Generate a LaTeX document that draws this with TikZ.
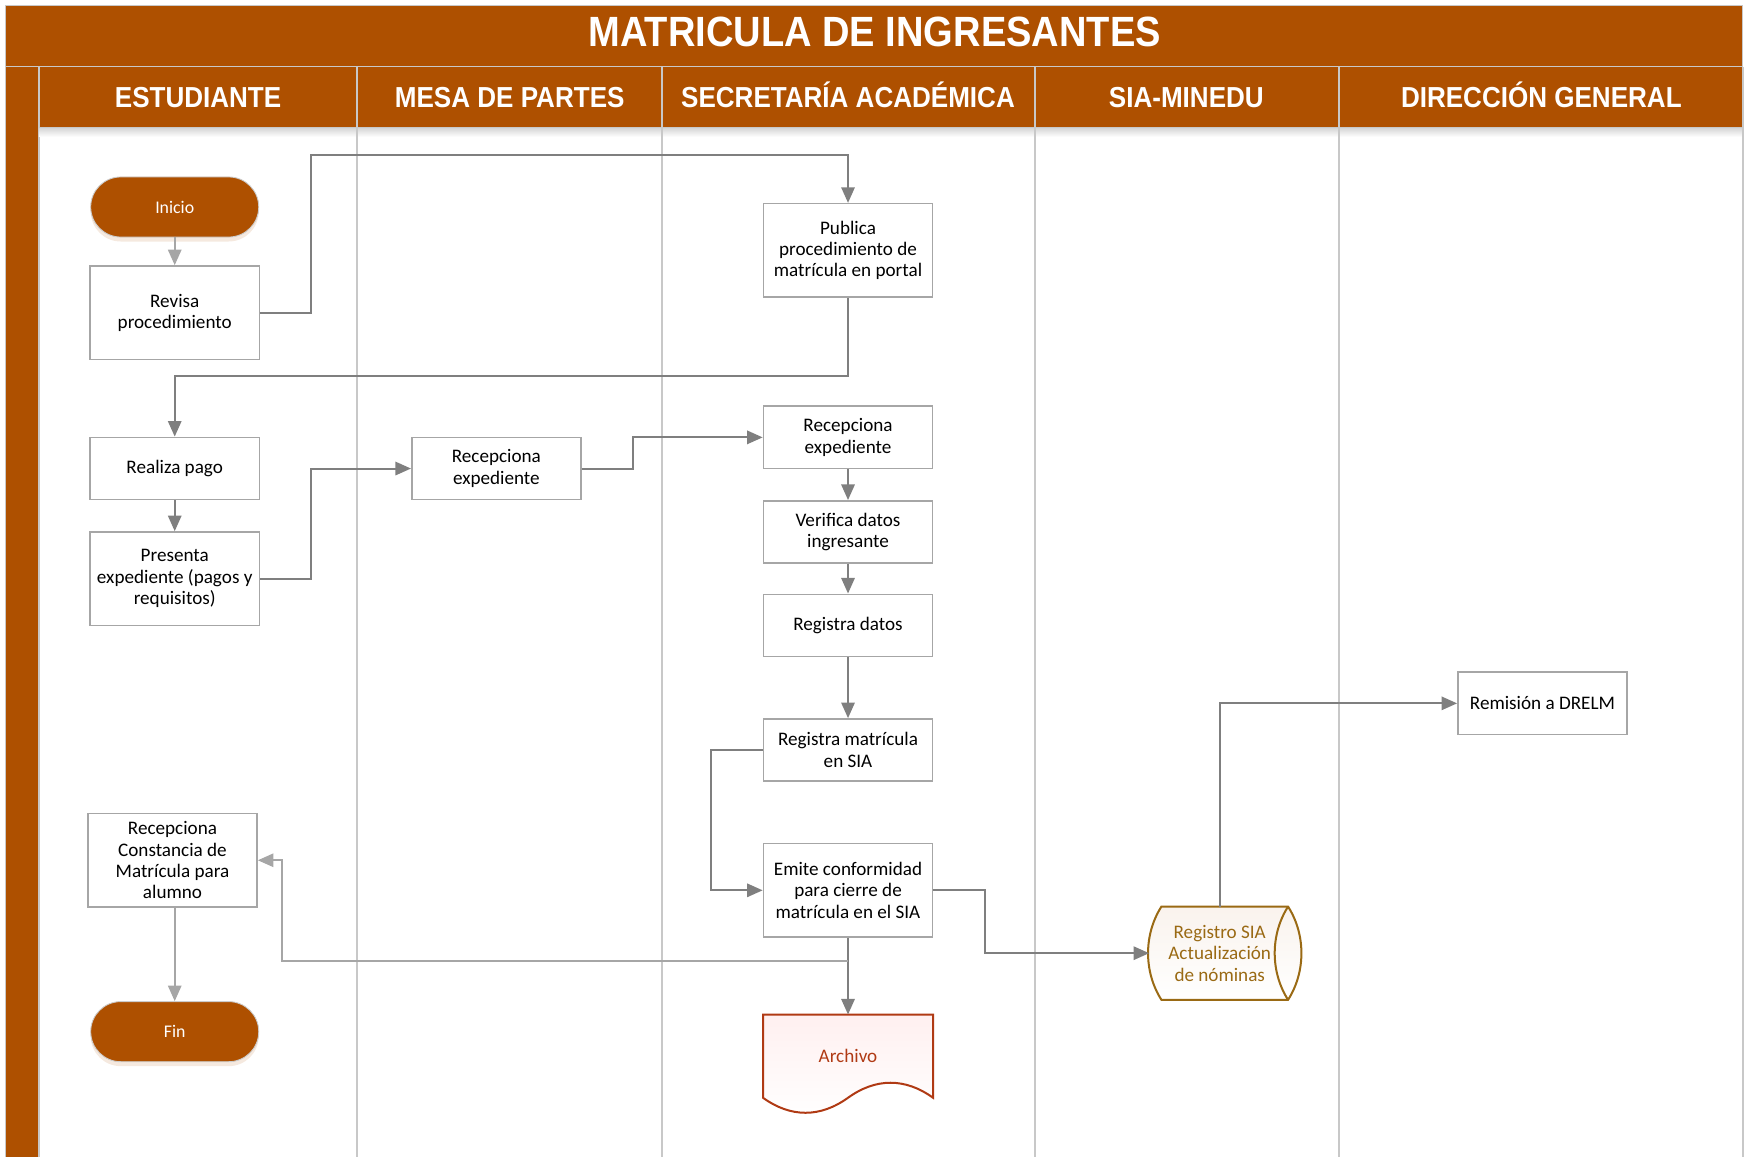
\documentclass[tikz,border=0pt]{standalone}
\usepackage{fontspec}
\setmainfont{Carlito}
\newfontfamily\headfont[FakeStretch=0.9]{Liberation Sans}
\usetikzlibrary{arrows.meta,shadows,calc,backgrounds}
\definecolor{brown1}{HTML}{AE5000}
\definecolor{boxgray}{HTML}{A6A6A6}
\definecolor{linegray}{HTML}{7F7F7F}
\definecolor{lightline}{HTML}{A6A6A6}
\definecolor{lanegray}{HTML}{C8C8C8}
\definecolor{archred}{HTML}{B03A14}
\definecolor{nomgold}{HTML}{9A6A14}

\begin{document}
\begin{tikzpicture}
  [x=0.5pt,y=-0.5pt,
   every node/.style={font=\fontsize{8.6}{9.6}\selectfont,align=center,inner sep=1pt},
   box/.style={draw=boxgray,line width=0.7pt,fill=white,minimum width=76pt,minimum height=28pt},
   tallbox/.style={box,minimum height=42pt},
   term/.style={fill=brown1,draw=gray!40,rounded corners=13.5pt,minimum width=75.5pt,minimum height=27pt,
     text=white,font=\fontsize{8}{9}\selectfont,
     drop shadow={shadow xshift=0pt,shadow yshift=-2pt,fill=brown1!25,opacity=.5}},
   band/.style={fill=brown1,draw=lanegray,line width=0.6pt},
   lane/.style={draw=lanegray,line width=1.1pt},
   hdr/.style={text=white,anchor=base,font=\headfont\bfseries\fontsize{13}{13}\selectfont},
   titletext/.style={text=white,anchor=base,font=\headfont\bfseries\fontsize{19}{19}\selectfont},
   flow/.style={draw=linegray,line width=0.9pt,-{Triangle[length=7pt,width=6pt]}},
   softflow/.style={flow,draw=lightline}]

  \useasboundingbox (0,0) rectangle (1568,1039);

  % lanes
  \draw[band] (5,5) rectangle (1566,60);
  \draw[band] (5,60) rectangle (35,1045);
  \draw[band] (35,60) rectangle (1566,115);
  \shade[top color=gray!30,bottom color=white] (35,115.5) rectangle (1566,123);
  \foreach \x in {321,595,930,1203,1566}
    \draw[lane] (\x,60) -- (\x,1045);

  \node[titletext] (title) at (786,42) {MATRICULA DE INGRESANTES};
  \foreach \x/\lbl [count=\i] in {178/ESTUDIANTE,458/MESA DE PARTES,762/SECRETARÍA ACADÉMICA,1066/SIA-MINEDU,1385/DIRECCIÓN GENERAL}
    \node[hdr] (hdr\i) at (\x,97) {\lbl};

  % steps
  \node[term] (inicio) at (157,186) {Inicio};
  \node[tallbox] (revisa) at (157,281) {Revisa\\procedimiento};
  \node[tallbox] (publica) at (762,225) {Publica\\procedimiento de\\matrícula en portal};
  \node[box] (pago) at (157,421) {Realiza pago};
  \node[tallbox] (presenta) at (157,520) {Presenta\\expediente (pagos y\\requisitos)};
  \node[box] (recmesa) at (446,421) {Recepciona\\expediente};
  \node[box] (recsec) at (762,393) {Recepciona\\expediente};
  \node[box] (verifica) at (762,478) {Verifica datos\\ingresante};
  \node[box] (regdatos) at (762,562) {Registra datos};
  \node[box] (regsia) at (762,674) {Registra matrícula\\en SIA};
  \node[tallbox] (emite) at (762,800) {Emite conformidad\\para cierre de\\matrícula en el SIA};
  \node[minimum width=76pt,minimum height=37pt,text=archred] (archivo) at (762,949) {Archivo};
  \node[minimum width=63pt,minimum height=41.5pt,text=nomgold] (nominas) at (1096,856.5) {Registro SIA\\Actualización\\de nóminas};
  \node[box] (remision) at (1386,632) {Remisión a DRELM};
  \node[tallbox] (constancia) at (155,773) {Recepciona\\Constancia de\\Matrícula para\\alumno};
  \node[term] (fin) at (157,927) {Fin};

  % document and stored data outlines
  \begin{pgfonlayer}{background}
    \draw[archred,line width=0.9pt,top color=red!6,bottom color=white]
      (archivo.south west) -- (archivo.north west) -- (archivo.north east) -- (archivo.south east)
      .. controls +(-25,-18) and +(25,-18) .. (archivo.south)
      .. controls +(-25,18) and +(25,18) .. (archivo.south west) -- cycle;
    \draw[nomgold,line width=0.9pt,top color=brown1!7,bottom color=white]
      ($(nominas.north west)+(11,0)$) -- ($(nominas.north east)+(-2,0)$)
      .. controls +(16,25) and +(16,-25) .. ($(nominas.south east)+(-2,0)$)
      -- ($(nominas.south west)+(11,0)$)
      .. controls +(-16,-25) and +(-16,25) .. ($(nominas.north west)+(11,0)$) -- cycle;
  \end{pgfonlayer}
  \draw[nomgold,line width=0.9pt] ($(nominas.north east)+(-2,0)$)
    .. controls +(-16,25) and +(-16,-25) .. ($(nominas.south east)+(-2,0)$);

  % connectors
  \draw[softflow] (inicio) -- (revisa);
  \draw[softflow] (constancia.south -| fin.north) -- (fin.north);
  \foreach \from/\to in {pago/presenta,recsec/verifica,verifica/regdatos,regdatos/regsia,emite/archivo}
    \draw[flow] (\from.south) -- (\to.north);
  \draw[flow] (revisa.east) -- ++(46,0) |- ([yshift=21.5pt]publica.north) -- (publica.north);
  \draw[flow] (publica.south) -- ++(0,70) -| (pago.north);
  \draw[flow] (presenta.east) -- ++(46,0) |- (recmesa.west);
  \draw[flow] (recmesa.east) -- ++(46,0) |- (recsec.west);
  \draw[flow] (regsia.west) -- ++(-46,0) |- (emite.west);
  \draw[flow] (emite.east) -- ++(46,0) |- (nominas.west);
  \draw[flow] (nominas.north) |- (remision.west);
  \draw[softflow] ([yshift=-10.5pt]emite.south) -- ++(-509,0) |- (constancia.east);
\end{tikzpicture}
\end{document}
